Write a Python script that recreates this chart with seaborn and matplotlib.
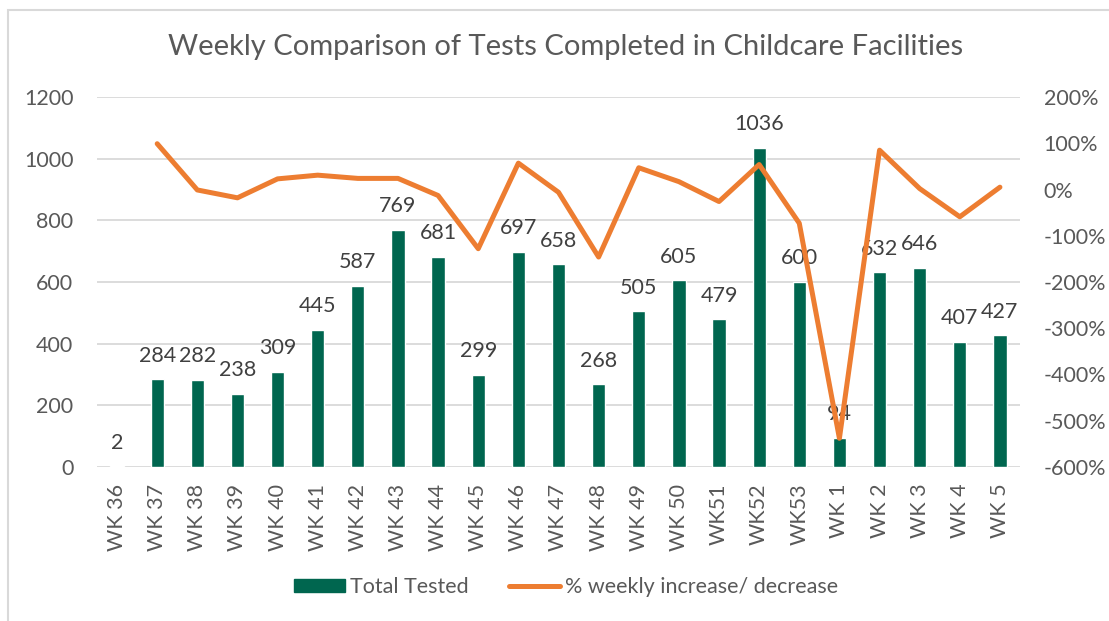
import matplotlib
matplotlib.use("Agg")
import matplotlib.pyplot as plt
import matplotlib.patches as mpatches
from matplotlib.lines import Line2D
import numpy as np
import pandas as pd
import seaborn as sns

weeks = ["WK 36", "WK 37", "WK 38", "WK 39", "WK 40", "WK 41", "WK 42", "WK 43",
         "WK 44", "WK 45", "WK 46", "WK 47", "WK 48", "WK 49", "WK 50", "WK51",
         "WK52", "WK53", "WK 1", "WK 2", "WK 3", "WK 4", "WK 5"]
total_tested = [2, 284, 282, 238, 309, 445, 587, 769, 681, 299, 697, 658, 268,
                505, 605, 479, 1036, 600, 94, 632, 646, 407, 427]
pct_change = [np.nan, 99, -1, -18, 23, 31, 24, 24, -13, -128, 57, -6, -146,
              47, 17, -26, 54, -73, -538, 85, 2, -59, 5]

title = "Weekly Comparison of Tests Completed in Childcare Facilities"
bar_label = "Total Tested"
line_label = "% weekly increase/ decrease"

GREEN = "#00664F"
ORANGE = "#ED7D31"
TXT = "#595959"
GRID = "#D9D9D9"

sns.set_theme(style="white")
plt.rcParams["font.family"] = ["Lato", "DejaVu Sans"]

df = pd.DataFrame({"week": weeks, "total": total_tested, "pct": pct_change})
df["pos"] = np.arange(len(df))

fig = plt.figure(figsize=(11.09, 6.21), dpi=100)
ax = fig.add_axes([97 / 1109, 1 - 467 / 621, (1020 - 97) / 1109, (467 - 97) / 621])

sns.barplot(data=df, x="week", y="total", color=GREEN, width=0.33,
            saturation=1, ax=ax, zorder=2)
ax.set_xlim(-0.5, len(df) - 0.5)
ax.set_ylim(0, 1200)
ax.set_yticks(np.arange(0, 1201, 200))
ax.grid(axis="y", color=GRID, linewidth=1.3, zorder=0)
ax.set_axisbelow(True)
for s in ax.spines.values():
    s.set_visible(False)
ax.set_xlabel("")
ax.set_ylabel("")
ax.tick_params(axis="y", length=0, pad=17, labelsize=15.5, labelcolor=TXT)
ax.tick_params(axis="x", length=0, pad=12, labelsize=15.5, labelcolor=TXT,
               labelrotation=90)

for p, v in zip(df["pos"], df["total"]):
    ax.annotate(str(v), (p, v), xytext=(0, 17), textcoords="offset points",
                ha="center", va="center", fontsize=15.5, color="#404040", zorder=1)

ax2 = ax.twinx()
sns.lineplot(x=df["pos"], y=df["pct"], color=ORANGE, linewidth=3.6, ax=ax2,
             zorder=3)
ax2.set_ylim(-600, 200)
ax2.set_yticks(np.arange(-600, 201, 100))
ax2.set_yticklabels([f"{t}%" for t in range(-600, 201, 100)])
ax2.set_xlim(-0.5, len(df) - 0.5)
for s in ax2.spines.values():
    s.set_visible(False)
ax2.set_ylabel("")
ax2.grid(False)
ax2.tick_params(axis="y", length=0, pad=17, labelsize=15.5, labelcolor=TXT)

fig.text(566 / 1109, 1 - 47 / 621, title, ha="center", va="center",
         fontsize=21, color=TXT)

handles = [mpatches.Patch(facecolor=GREEN, edgecolor=GREEN),
           Line2D([0], [0], color=ORANGE, linewidth=3.6, solid_capstyle="round")]
fig.legend(handles, [bar_label, line_label], loc="center",
           bbox_to_anchor=(566 / 1109, 1 - 587 / 621), ncol=2, frameon=False,
           fontsize=15.5, labelcolor=TXT, handlelength=2.37, handleheight=0.6,
           columnspacing=1.86, handletextpad=0.23, borderpad=0, borderaxespad=0)

border = mpatches.Rectangle((8 / 1109, -0.1), 1.5, 1.092 - 5 / 621,
                            transform=fig.transFigure, fill=False,
                            edgecolor=GRID, linewidth=1.5)
fig.add_artist(border)

fig.savefig("out.png", dpi=100, facecolor="white")
